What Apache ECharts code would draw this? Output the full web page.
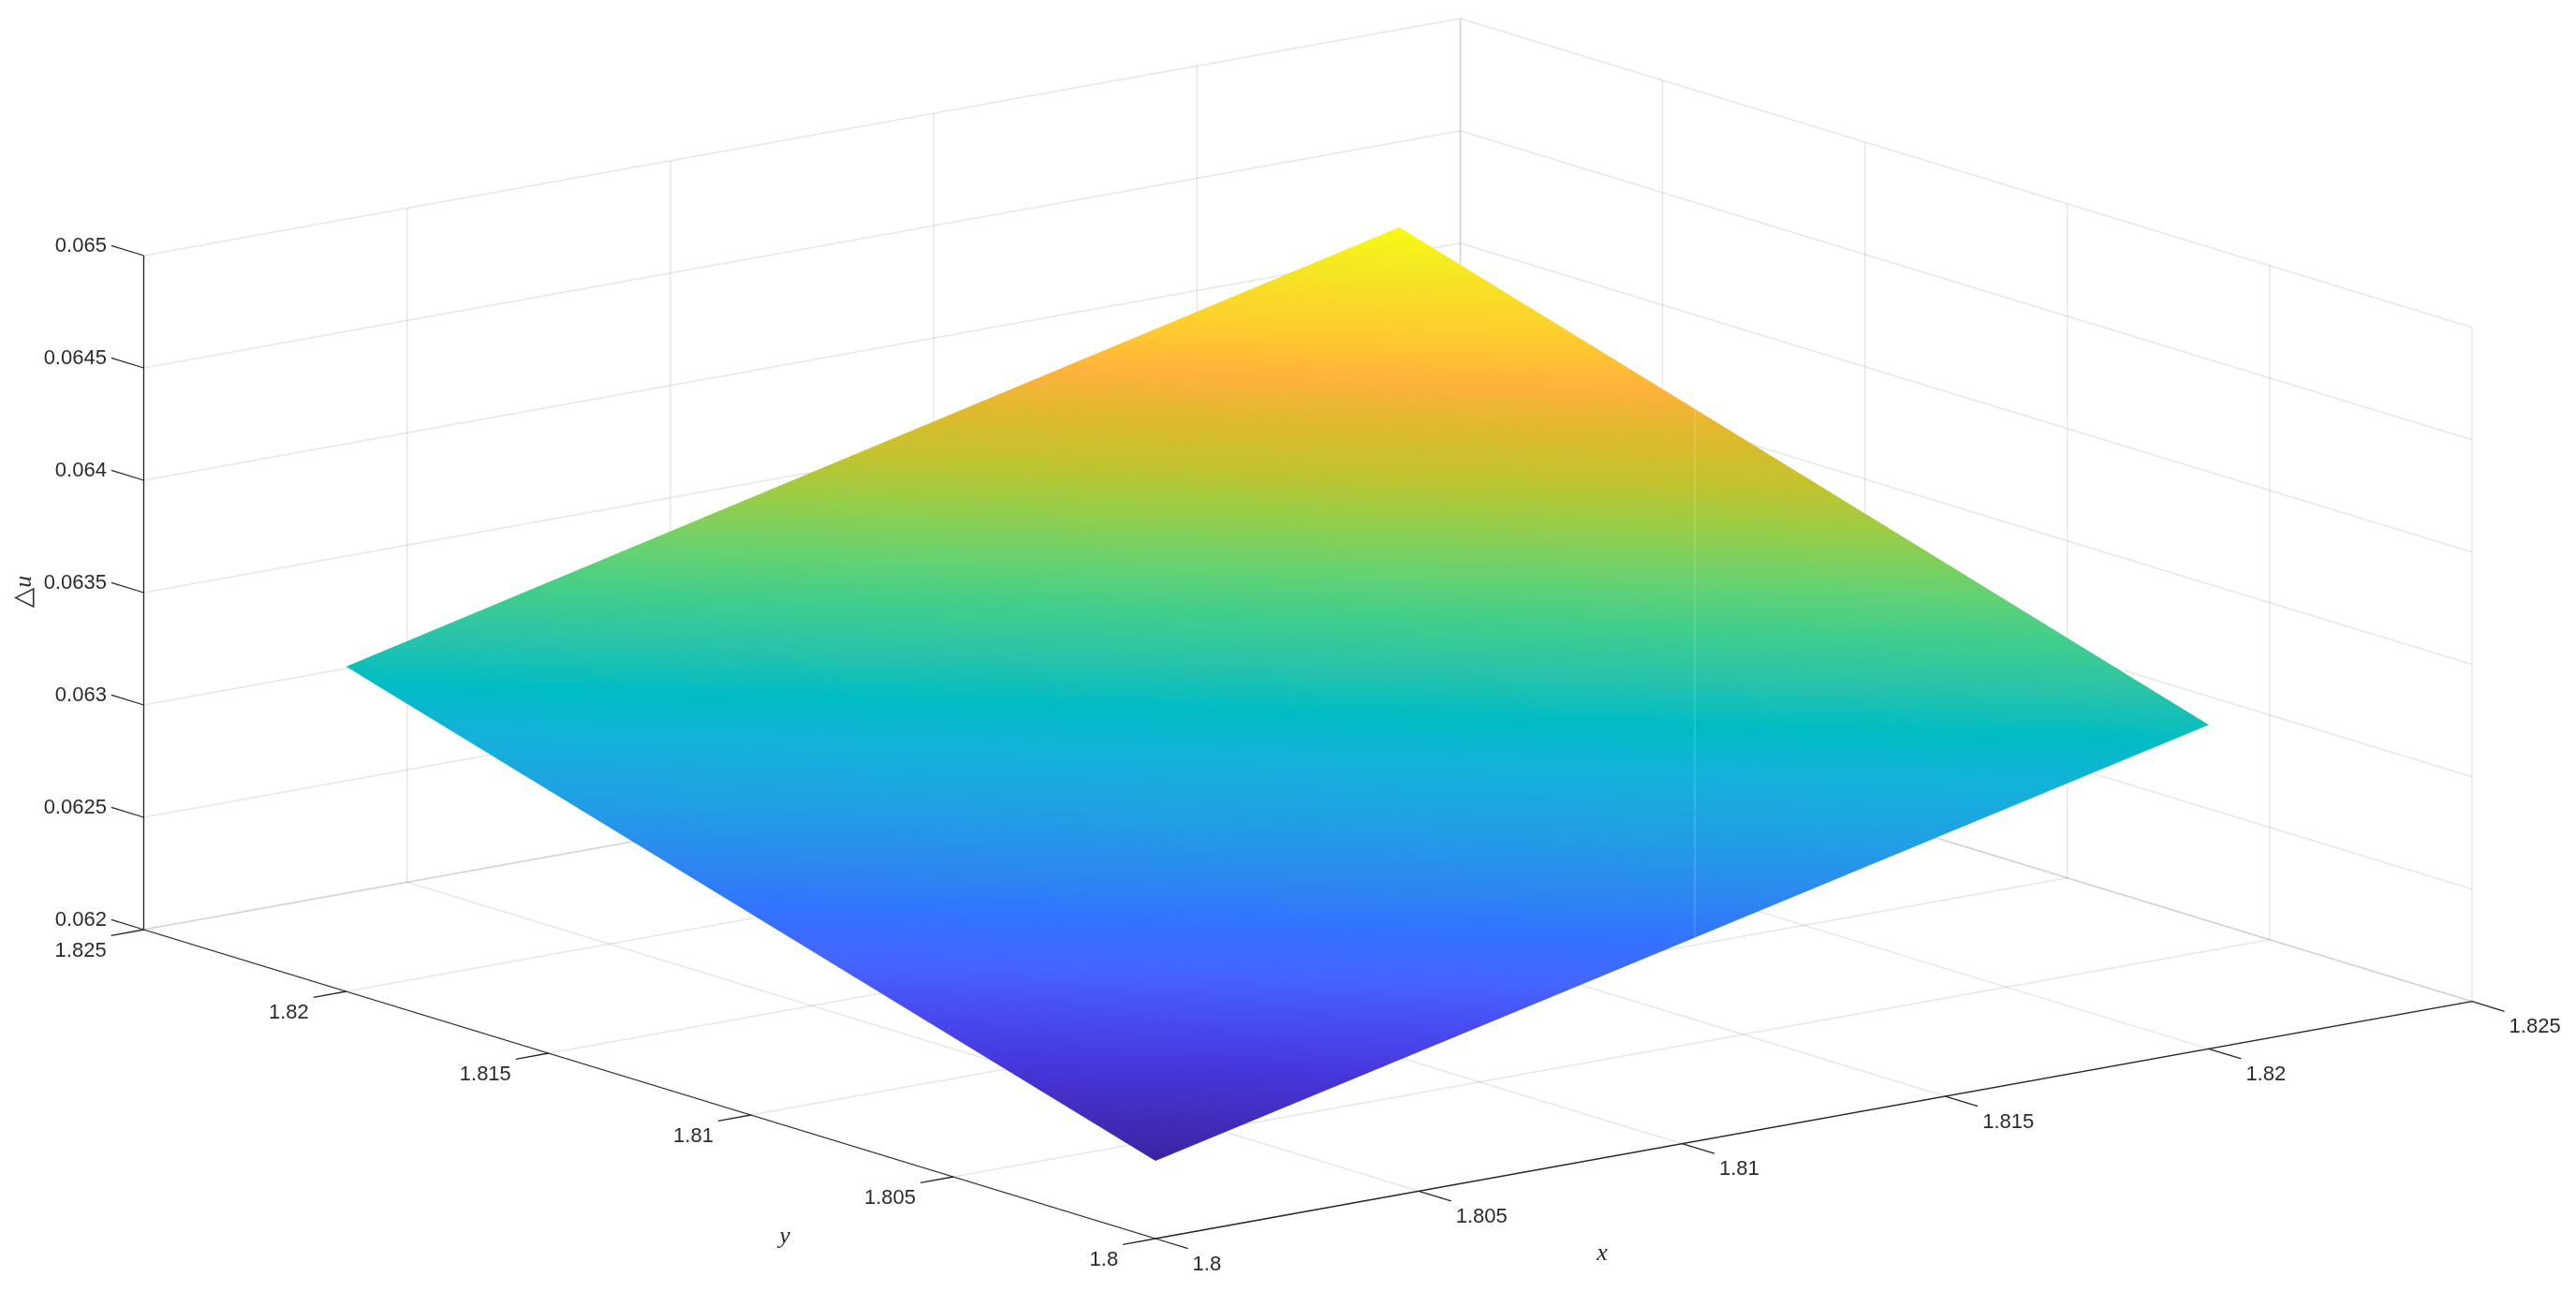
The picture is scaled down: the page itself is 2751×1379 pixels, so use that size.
<!DOCTYPE html>
<html><head><meta charset="utf-8">
<style>html,body{margin:0;padding:0;background:#fff}#c{width:2751px;height:1379px}</style>
<script src="https://cdn.jsdelivr.net/npm/echarts@6/dist/echarts.min.js"></script>
</head><body><div id="c"></div>
<script>
// ---- data
var xTicks = [1.8, 1.805, 1.81, 1.815, 1.82, 1.825];
var yTicks = [1.8, 1.805, 1.81, 1.815, 1.82, 1.825];
var zTicks = [0.062, 0.0625, 0.063, 0.0635, 0.064, 0.0645, 0.065];
var xTickLabels = ['1.8', '1.805', '1.81', '1.815', '1.82', '1.825'];
var yTickLabels = ['1.8', '1.805', '1.81', '1.815', '1.82', '1.825'];
var zTickLabels = ['0.062', '0.0625', '0.063', '0.0635', '0.064', '0.0645', '0.065'];
var surfaceX = [1.8, 1.82];
var surfaceY = [1.8, 1.82];
var surfaceZ = [            // rows follow surfaceY, columns follow surfaceX
  [0.062346, 0.063442],
  [0.063446, 0.064557]
];
var surfaceSeam = [1.82, 1.8127, 0.064150, 1.81024, 1.8, 0.062907]; // faint seam across the surface
var colorStops = [
  [0.00, '#3c23a0'], [0.10, '#4637dc'], [0.15, '#484bf0'], [0.20, '#4664ff'],
  [0.254, '#3273ff'], [0.30, '#2d87f0'], [0.366, '#20a0e4'], [0.43, '#14b2da'],
  [0.48, '#00bcc4'], [0.53, '#28c3aa'], [0.583, '#41cd8c'], [0.63, '#64d273'],
  [0.694, '#9bcd46'], [0.74, '#c3c32d'], [0.793, '#e1b92d'], [0.836, '#feb23c'],
  [0.89, '#fecd2d'], [0.957, '#f5e823'], [1.00, '#f8fa14']
];

// ---- view of the 3D box (orthographic)
var X0 = 1.8, Y0 = 1.8, Z0 = 0.062, XS = 0.025, YS = 0.025, ZS = 0.003;
var origin = [1234, 1323], ex = [1406, -253.3], ey = [-1080.5, -330], ez = [0, -720];
function project(x, y, z) {
  var a = (x - X0) / XS, b = (y - Y0) / YS, c = (z - Z0) / ZS;
  return [origin[0] + a * ex[0] + b * ey[0] + c * ez[0],
          origin[1] + a * ex[1] + b * ey[1] + c * ez[1]];
}
var xMin = xTicks[0], xMax = xTicks[xTicks.length - 1];
var yMin = yTicks[0], yMax = yTicks[yTicks.length - 1];
var zMin = zTicks[0], zMax = zTicks[zTicks.length - 1];

function seg(a, b) { return a.concat(b); }
var gridSegs = [];
xTicks.forEach(function (x) {
  gridSegs.push(seg([x, yMin, zMin], [x, yMax, zMin]));
  gridSegs.push(seg([x, yMax, zMin], [x, yMax, zMax]));
});
yTicks.forEach(function (y) {
  gridSegs.push(seg([xMin, y, zMin], [xMax, y, zMin]));
  gridSegs.push(seg([xMax, y, zMin], [xMax, y, zMax]));
});
zTicks.forEach(function (z) {
  gridSegs.push(seg([xMin, yMax, z], [xMax, yMax, z]));
  gridSegs.push(seg([xMax, yMin, z], [xMax, yMax, z]));
});

var TICK_ALONG_Y = 0.0008, TICK_ALONG_X = 0.00062;
var axisSegs = [
  seg([xMin, yMin, zMin], [xMax, yMin, zMin]),
  seg([xMin, yMin, zMin], [xMin, yMax, zMin]),
  seg([xMin, yMax, zMin], [xMin, yMax, zMax])
];
var labelItems = [];
xTicks.forEach(function (x, i) {
  var e = [x, yMin - TICK_ALONG_Y, zMin];
  axisSegs.push(seg([x, yMin, zMin], e));
  labelItems.push({ p: e, text: xTickLabels[i], align: 'left', dx: 5, dy: 17 });
});
yTicks.forEach(function (y, i) {
  var e = [xMin - TICK_ALONG_X, y, zMin];
  axisSegs.push(seg([xMin, y, zMin], e));
  labelItems.push({ p: e, text: yTickLabels[i], align: 'right', dx: -5, dy: 17 });
});
zTicks.forEach(function (z, i) {
  var e = [xMin, yMax + TICK_ALONG_Y, z];
  axisSegs.push(seg([xMin, yMax, z], e));
  labelItems.push({ p: e, text: zTickLabels[i], align: 'right', dx: -5, dy: 0 });
});

// gradient endpoints of a plane through three projected corners
function planeGradient(api) {
  var vMin = surfaceZ[0][0], vMax = surfaceZ[1][1];
  var P = function (i, j) {
    return api.coord(project(surfaceX[i], surfaceY[j], surfaceZ[j][i]));
  };
  var a = P(0, 0), l = P(0, 1), b = P(1, 1);
  var za = surfaceZ[0][0], zl = surfaceZ[1][0], zb = surfaceZ[1][1];
  var u = [l[0] - a[0], l[1] - a[1]], v = [b[0] - a[0], b[1] - a[1]];
  var det = u[0] * v[1] - u[1] * v[0];
  var gx = ((zl - za) * v[1] - (zb - za) * u[1]) / det;
  var gy = (-(zl - za) * v[0] + (zb - za) * u[0]) / det;
  var n2 = gx * gx + gy * gy;
  var s = [a[0], a[1]];
  var e = [s[0] + gx * (vMax - vMin) / n2, s[1] + gy * (vMax - vMin) / n2];
  return { s: s, e: e };
}

var chart = echarts.init(document.getElementById('c'), null, { renderer: 'canvas' });
function lineItem(params, api, style) {
  var p = [api.value(0), api.value(1), api.value(2), api.value(3), api.value(4), api.value(5)];
  var a = api.coord(project(p[0], p[1], p[2])), b = api.coord(project(p[3], p[4], p[5]));
  return { type: 'line', shape: { x1: a[0], y1: a[1], x2: b[0], y2: b[1] }, style: style, silent: true };
}
var FONT = '"Liberation Sans", Arial, sans-serif', MATH = '"Liberation Serif", serif';
var TEXT = '#2b2b2b';
chart.setOption({
  animation: false,
  backgroundColor: '#ffffff',
  grid: { left: 0, right: 0, top: 0, bottom: 0 },
  xAxis: { type: 'value', min: 0, max: 2751, show: false },
  yAxis: { type: 'value', min: 0, max: 1379, inverse: true, show: false },
  series: [
    { type: 'custom', coordinateSystem: 'cartesian2d', clip: false, silent: true, z: 1,
      data: gridSegs,
      renderItem: function (params, api) {
        return lineItem(params, api, { stroke: 'rgba(38,38,38,0.11)', lineWidth: 1.5, fill: null });
      } },
    { type: 'custom', coordinateSystem: 'cartesian2d', clip: false, silent: true, z: 2,
      data: [[0]],
      renderItem: function (params, api) {
        var pts = [[0, 0], [1, 0], [1, 1], [0, 1]].map(function (c) {
          return api.coord(project(surfaceX[c[0]], surfaceY[c[1]], surfaceZ[c[1]][c[0]]));
        });
        var g = planeGradient(api);
        var fill = new echarts.graphic.LinearGradient(g.s[0], g.s[1], g.e[0], g.e[1],
          colorStops.map(function (c) { return { offset: c[0], color: c[1] }; }), true);
        return { type: 'polygon', shape: { points: pts }, style: { fill: fill }, silent: true };
      } },
    { type: 'custom', coordinateSystem: 'cartesian2d', clip: false, silent: true, z: 2,
      data: [surfaceSeam],
      renderItem: function (params, api) {
        return lineItem(params, api, { stroke: 'rgba(255,255,255,0.22)', lineWidth: 1.2, fill: null });
      } },
    { type: 'custom', coordinateSystem: 'cartesian2d', clip: false, silent: true, z: 3,
      data: axisSegs,
      renderItem: function (params, api) {
        return lineItem(params, api, { stroke: '#262626', lineWidth: 1.3, fill: null });
      } },
    { type: 'custom', coordinateSystem: 'cartesian2d', clip: false, silent: true, z: 4,
      data: labelItems.map(function (d, i) { return [i]; }),
      renderItem: function (params, api) {
        var d = labelItems[params.dataIndex];
        var c = api.coord(project(d.p[0], d.p[1], d.p[2]));
        return { type: 'text', x: c[0] + d.dx, y: c[1] + d.dy, silent: true,
          style: { text: d.text, fill: TEXT, font: '22px ' + FONT, align: d.align, verticalAlign: 'middle' } };
      } },
    { type: 'custom', coordinateSystem: 'cartesian2d', clip: false, silent: true, z: 4,
      data: [[838, 1321, 'y'], [1711, 1339, 'x']],
      renderItem: function (params, api) {
        var c = api.coord([api.value(0), api.value(1)]);
        return { type: 'text', x: c[0], y: c[1], silent: true,
          style: { text: params.dataIndex === 0 ? 'y' : 'x', fill: TEXT, font: 'italic 26px ' + MATH, align: 'center', verticalAlign: 'middle' } };
      } },
    { type: 'custom', coordinateSystem: 'cartesian2d', clip: false, silent: true, z: 4,
      data: [[26, 632]],
      renderItem: function (params, api) {
        var c = api.coord([api.value(0), api.value(1)]);
        return { type: 'text', x: c[0], y: c[1], rotation: Math.PI / 2, silent: true,
          style: { text: '{a|△}{b|u}', fill: TEXT, align: 'center', verticalAlign: 'middle',
            rich: { a: { font: '28px "DejaVu Sans"', fill: TEXT }, b: { font: 'italic 26px ' + MATH, fill: TEXT } } } };
      } }
  ]
});
</script></body></html>
